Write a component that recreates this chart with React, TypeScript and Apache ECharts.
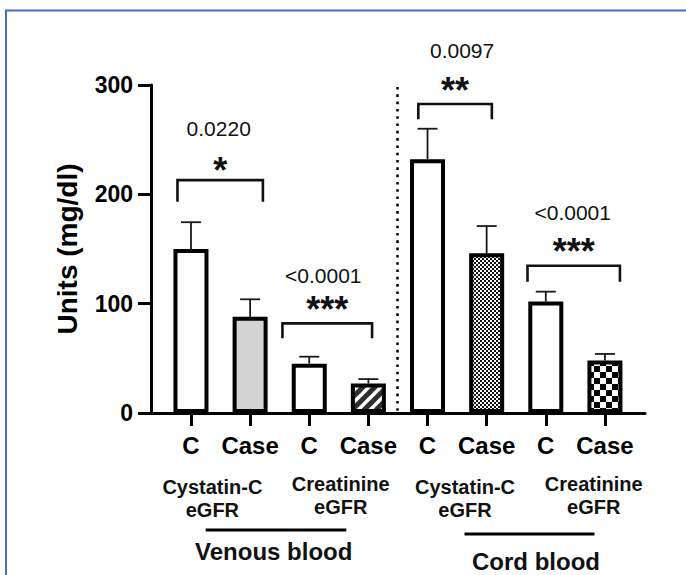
import React, { useEffect, useRef } from 'react';
import * as echarts from 'echarts';

// ---- data ----
const categories = ['C', 'Case', 'C', 'Case', 'C', 'Case', 'C', 'Case'];
const means = [150, 88, 45, 27, 232, 146, 102, 48];
const sem = [24.5, 16, 6.5, 4, 28, 25, 9, 6];
const yTicks = [0, 100, 200, 300];
const groupLabels = ['Cystatin-C\neGFR', 'Creatinine\neGFR', 'Cystatin-C\neGFR', 'Creatinine\neGFR'];
const sampleLabels = ['Venous blood', 'Cord blood'];
const comparisons = [[0, 1], [2, 3], [4, 5], [6, 7]];
const pValues = ['0.0220', '<0.0001', '0.0097', '<0.0001'];
const stars = ['*', '***', '**', '***'];
const yTitle = 'Units (mg/dl)';

// ---- layout (data units for bracket heights, pixels otherwise) ----
const bracketY = [213, 82, 282.6, 134.7];
const bracketLeg = [193.3, 68.3, 268.6, 120];
const bracketDx = [[-13.5, 12.8], [-26.8, 3.7], [-9.2, 5.2], [-18.3, 15]];
const pDx = [-1.5, -4, 7, -1];
const pUp = [52, 48, 54, 53];
const starUp = [18, 21.5, 21.3, 22.4];
const fillKinds = ['white', 'gray', 'white', 'stripes', 'white', 'fine', 'white', 'coarse'];
const groupX = [212.4, 340.7, 465, 593.7];
const groupY = [498, 495.5, 498, 495.5];

const FONT = '"Liberation Sans", Arial, Helvetica, sans-serif';

function makeCanvas(size: number, draw: (ctx: CanvasRenderingContext2D) => void) {
  const c = document.createElement('canvas');
  c.width = size;
  c.height = size;
  const ctx = c.getContext('2d')!;
  draw(ctx);
  return c;
}

function fillFor(kind: string): any {
  if (kind === 'white') return '#ffffff';
  if (kind === 'gray') return '#d3d3d3';
  if (kind === 'stripes') {
    const c = makeCanvas(12, (ctx) => {
      ctx.fillStyle = '#2e2e2e';
      ctx.fillRect(0, 0, 12, 12);
      ctx.strokeStyle = '#ffffff';
      ctx.lineWidth = 3.6;
      for (const off of [-12, 0, 12]) {
        ctx.beginPath();
        ctx.moveTo(off - 2, 14);
        ctx.lineTo(off + 14, -2);
        ctx.stroke();
      }
    });
    return { image: c, repeat: 'repeat', imageWidth: 12, imageHeight: 12 };
  }
  if (kind === 'fine') {
    const c = makeCanvas(4, (ctx) => {
      ctx.fillStyle = '#ffffff';
      ctx.fillRect(0, 0, 4, 4);
      ctx.fillStyle = '#111111';
      ctx.fillRect(0, 0, 2, 2);
      ctx.fillRect(2, 2, 2, 2);
    });
    return { image: c, repeat: 'repeat', imageWidth: 4, imageHeight: 4 };
  }
  const c = makeCanvas(12, (ctx) => {
    ctx.fillStyle = '#ffffff';
    ctx.fillRect(0, 0, 12, 12);
    ctx.fillStyle = '#000000';
    ctx.fillRect(0, 0, 6, 6);
    ctx.fillRect(6, 6, 6, 6);
  });
  return { image: c, repeat: 'repeat', imageWidth: 12, imageHeight: 12 };
}

export default function App() {
  const ref = useRef<HTMLDivElement>(null);
  useEffect(() => {
    document.body.style.margin = '0';
    const chart = echarts.init(ref.current!, null, { renderer: 'svg' });
    const black = '#000000';
    const option: any = {
      animation: false,
      backgroundColor: '#ffffff',
      grid: [
        { left: 151, right: 41, top: 85, bottom: 162 },
        { left: 161.4, right: 51.5, top: 85, bottom: 162 },
      ],
      xAxis: [
        {
          gridIndex: 0, type: 'value', min: 0, max: 1,
          axisLine: { show: true, lineStyle: { color: black, width: 3 } },
          axisTick: { show: false }, axisLabel: { show: false }, splitLine: { show: false },
        },
        {
          gridIndex: 1, type: 'category', data: categories,
          axisLine: { show: false },
          axisTick: { show: true, alignWithLabel: true, length: 13, lineStyle: { color: black, width: 3 } },
          axisLabel: { color: black, fontSize: 24, fontWeight: 'bold', fontFamily: FONT, margin: 20, interval: 0 },
        },
      ],
      yAxis: [
        {
          gridIndex: 0, type: 'value', min: yTicks[0], max: yTicks[yTicks.length - 1], interval: yTicks[1] - yTicks[0],
          name: yTitle, nameLocation: 'middle', nameGap: 70,
          nameTextStyle: { color: black, fontSize: 28, fontWeight: 'bold', fontFamily: FONT },
          axisLine: { show: true, lineStyle: { color: black, width: 3 } },
          axisTick: { show: true, length: 13, lineStyle: { color: black, width: 3 } },
          axisLabel: { color: black, fontSize: 23, fontWeight: 'bold', fontFamily: FONT, margin: 18 },
          splitLine: { show: false },
        },
        {
          gridIndex: 1, type: 'value', min: yTicks[0], max: yTicks[yTicks.length - 1], show: false,
          splitLine: { show: false },
        },
      ],
      series: [
        {
          type: 'bar', xAxisIndex: 1, yAxisIndex: 1, barWidth: 35, z: 3,
          data: means.map((v, i) => ({
            value: v,
            itemStyle: { color: fillFor(fillKinds[i]), borderColor: black, borderWidth: 4 },
          })),
        },
        {
          type: 'custom', xAxisIndex: 1, yAxisIndex: 1, z: 2,
          data: means.map((m, i) => [i, m, m + sem[i]]),
          renderItem: (params: any, api: any) => {
            const base = api.coord([api.value(0), api.value(1)]);
            const top = api.coord([api.value(0), api.value(2)]);
            const st = { stroke: '#1a1a1a', lineWidth: 1.8 };
            return {
              type: 'group',
              children: [
                { type: 'line', shape: { x1: base[0], y1: base[1], x2: top[0], y2: top[1] }, style: st },
                { type: 'line', shape: { x1: top[0] - 10, y1: top[1], x2: top[0] + 10, y2: top[1] }, style: st },
              ],
            };
          },
        },
        {
          type: 'custom', xAxisIndex: 1, yAxisIndex: 1, z: 4,
          data: comparisons.map((c, i) => [c[0], c[1], bracketY[i], bracketLeg[i]]),
          renderItem: (params: any, api: any) => {
            const i = params.dataIndex;
            const L = api.coord([api.value(0), api.value(2)]);
            const R = api.coord([api.value(1), api.value(2)]);
            const legY = api.coord([api.value(0), api.value(3)])[1];
            const xl = L[0] + bracketDx[i][0];
            const xr = R[0] + bracketDx[i][1];
            const y = L[1];
            const cx = (xl + xr) / 2;
            return {
              type: 'group',
              children: [
                {
                  type: 'polyline',
                  shape: { points: [[xl, legY], [xl, y], [xr, y], [xr, legY]] },
                  style: { stroke: '#111111', lineWidth: 2.6, fill: null },
                },
                {
                  type: 'text', x: cx + pDx[i], y: y - pUp[i],
                  style: { text: pValues[i], fill: '#111111', fontSize: 21, fontFamily: FONT, align: 'center', verticalAlign: 'middle' },
                },
                {
                  type: 'text', x: cx, y: y - starUp[i] + 8,
                  style: { text: stars[i], fill: '#111111', fontSize: 36, fontWeight: 'bold', fontFamily: FONT, align: 'center', verticalAlign: 'middle' },
                },
              ],
            };
          },
        },
      ],
      graphic: {
        elements: [
          {
            type: 'rect', shape: { x: 6, y: 10.5, width: 720, height: 620 },
            style: { fill: null, stroke: '#4a6cba', lineWidth: 2 }, z: 10,
          },
          {
            type: 'line', shape: { x1: 397.5, y1: 87, x2: 397.5, y2: 411 },
            style: { stroke: '#000000', lineWidth: 2.6, lineDash: [2.6, 4.7] },
          },
          ...groupLabels.map((t, i) => ({
            type: 'text',
            x: groupX[i],
            y: groupY[i],
            style: { text: t, fill: '#111111', fontSize: 20, fontWeight: 'bold', fontFamily: FONT, align: 'center', verticalAlign: 'middle', lineHeight: 23 },
          })),
          { type: 'line', shape: { x1: 205.7, y1: 530, x2: 346.3, y2: 530 }, style: { stroke: '#000', lineWidth: 3 } },
          { type: 'line', shape: { x1: 464.5, y1: 534, x2: 594.5, y2: 534 }, style: { stroke: '#000', lineWidth: 3 } },
          {
            type: 'text', x: 273.7, y: 551,
            style: { text: sampleLabels[0], fill: '#111111', fontSize: 24, fontWeight: 'bold', fontFamily: FONT, align: 'center', verticalAlign: 'middle' },
          },
          {
            type: 'text', x: 536, y: 561,
            style: { text: sampleLabels[1], fill: '#111111', fontSize: 24, fontWeight: 'bold', fontFamily: FONT, align: 'center', verticalAlign: 'middle' },
          },
        ],
      },
    };
    chart.setOption(option);
    return () => chart.dispose();
  }, []);
  return (
    <div
      ref={ref}
      style={{ width: 686, height: 575, position: 'absolute', left: 0, top: 0, background: '#ffffff' }}
    />
  );
}
